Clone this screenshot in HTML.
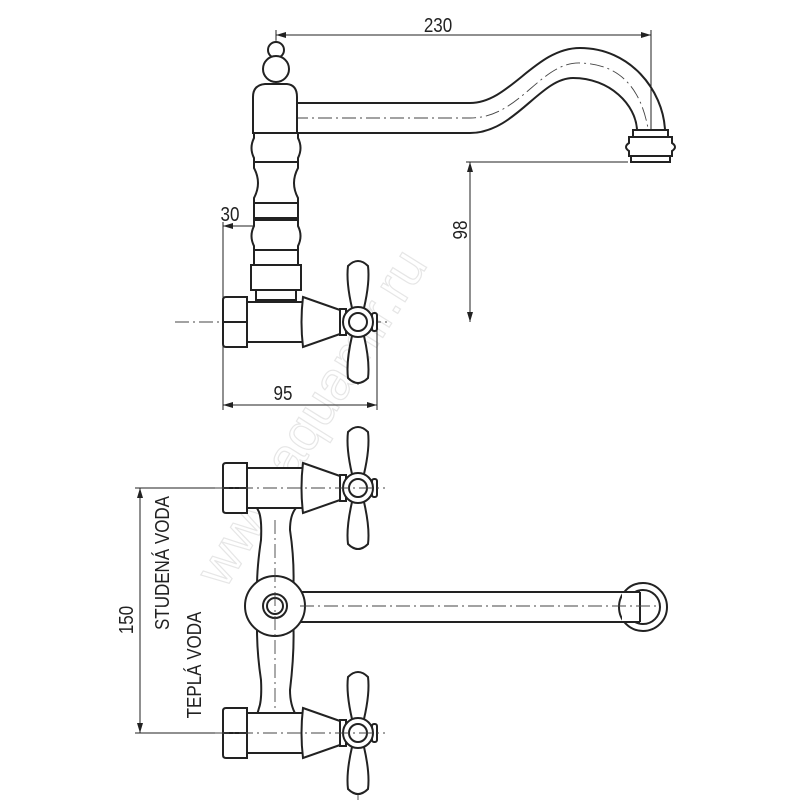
<!DOCTYPE html>
<html><head><meta charset="utf-8"><style>
html,body{margin:0;padding:0;background:#fff;}
svg{display:block;}
text{font-family:"Liberation Sans",sans-serif;fill:#222;}
</style></head><body>
<svg width="800" height="800" viewBox="0 0 800 800" xmlns="http://www.w3.org/2000/svg">
<defs>
<marker id="ar" markerWidth="10" markerHeight="6" refX="10" refY="3" orient="auto-start-reverse" markerUnits="userSpaceOnUse"><path d="M0,0 L10,3 L0,6 z" fill="#222"/></marker>
<g id="valve" fill="#fff" stroke="#222" stroke-width="2">
  <rect x="247" y="-20" width="56" height="40"/>
  <path d="M223,-22 Q223,-25 226,-25 L247,-25 L247,25 L226,25 Q223,25 223,22 Z"/>
  <line x1="223" y1="0" x2="247" y2="0"/>
  <path d="M303,-25 L340,-12 L340,12 L303,25 Q300,0 303,-25 Z"/>
  <rect x="340" y="-13" width="6" height="26"/>
  <path d="M352,-14 Q346,-40 348,-56 Q358,-66 368,-56 Q370,-40 364,-14 Z"/>
  <path d="M352,14 Q346,40 348,56 Q358,66 368,56 Q370,40 364,14 Z"/>
  <rect x="372" y="-9" width="5" height="18" rx="2"/>
  <circle cx="358" cy="0" r="15"/>
  <circle cx="358" cy="0" r="9"/>
</g>
</defs>

<text x="0" y="0" transform="translate(225,590) rotate(-58)" font-size="54" stroke="#e6e6e6" stroke-width="1.2" style="fill:none">www.aquamir.ru</text>

<g stroke="#222" stroke-width="1" fill="none">
<line x1="276" y1="35" x2="651" y2="35" marker-start="url(#ar)" marker-end="url(#ar)"/>
<line x1="276" y1="30" x2="276" y2="40"/>
<line x1="651" y1="30" x2="651" y2="162"/>
<line x1="470" y1="162" x2="470" y2="322" marker-start="url(#ar)" marker-end="url(#ar)"/>
<line x1="466" y1="162" x2="628" y2="162"/>
<line x1="223" y1="226" x2="276" y2="226" marker-start="url(#ar)" marker-end="url(#ar)"/>
<line x1="223" y1="222" x2="223" y2="410"/>
<line x1="223" y1="405" x2="377" y2="405" marker-start="url(#ar)" marker-end="url(#ar)"/>
<line x1="377" y1="330" x2="377" y2="410"/>
<line x1="140" y1="488" x2="140" y2="733" marker-start="url(#ar)" marker-end="url(#ar)"/>
<line x1="135" y1="488" x2="225" y2="488"/>
<line x1="135" y1="733" x2="225" y2="733"/>
</g>

<g stroke="#444" stroke-width="0.9" fill="none" stroke-dasharray="14,4,2,4">
<line x1="276" y1="40" x2="276" y2="300"/>
<line x1="175" y1="322" x2="390" y2="322"/>
<line x1="358" y1="262" x2="358" y2="385"/>
<path d="M270,118 L470,118 C520,118 540,62 580,63 C625,64 650,95 651,162"/>
<line x1="358" y1="430" x2="358" y2="548"/>
<line x1="358" y1="672" x2="358" y2="800"/>
</g>

<g stroke="#222" stroke-width="2" fill="none">
<path d="M297,103 L470,103 C510,103 535,48 580,48 C630,48 663,90 665,130"/>
<path d="M297,133 L470,133 C515,133 540,78 573,78 C610,78 636,105 637,130"/>
<path d="M633,130 L668,130 L668,137 L633,137 Z" fill="#fff"/>
<path d="M629,137 L672,137 L672,143 Q678,147 672,151 L672,156 L629,156 L629,151 Q623,147 629,143 Z" fill="#fff"/>
<path d="M631,156 L670,156 L670,162 L631,162 Z" fill="#fff"/>
<circle cx="276" cy="50" r="8" fill="#fff"/>
<circle cx="276" cy="69" r="13" fill="#fff"/>
<path d="M253,133 L253,97 Q253,85 265,84 L287,84 Q297,85 297,97 L297,133 Z" fill="#fff"/>
<path d="M254,133 L298,133 L298,138 Q303,148 298,158 L298,162 L254,162 L254,158 Q249,148 254,138 Z" fill="#fff"/>
<path d="M254,162 L298,162 L298,168 Q290,183 298,198 L298,203 L254,203 L254,198 Q262,183 254,168 Z" fill="#fff"/>
<path d="M254,203 L298,203 L298,218 L254,218 Z" fill="#fff"/>
<path d="M254,220 L298,220 L298,226 Q303,236 298,246 L298,250 L254,250 L254,246 Q249,236 254,226 Z" fill="#fff"/>
<path d="M254,250 L298,250 L298,265 L254,265 Z" fill="#fff"/>
<rect x="251" y="265" width="50" height="25" fill="#fff"/>
<rect x="256" y="290" width="40" height="10" fill="#fff"/>
</g>
<use href="#valve" transform="translate(0,322)"/>

<g stroke="#222" stroke-width="2" fill="#fff">
<path d="M300,592 L640,592 M300,622 L640,622" fill="none"/>
<circle cx="643" cy="607" r="24"/>
<circle cx="643" cy="607" r="17"/>
<rect x="622" y="592" width="20" height="30" stroke="none"/>
<path d="M622,592 L640,592 M622,622 L640,622" fill="none"/>
<line x1="640" y1="592" x2="640" y2="622"/>
<path d="M257,508 L259,512 Q262,520 261,540 Q255,580 258,606 Q255,640 261,680 Q262,700 259,708 L257,715 L296,715 Q290,705 290,690 Q296,640 292,606 Q296,570 290,530 Q290,515 296,508 Z"/>
<circle cx="275" cy="606" r="30"/>
<circle cx="275" cy="606" r="12"/>
<circle cx="275" cy="606" r="8"/>
</g>
<g stroke="#444" stroke-width="0.9" fill="none" stroke-dasharray="14,4,2,4">
<line x1="275" y1="520" x2="275" y2="725"/>
<line x1="300" y1="606" x2="660" y2="606"/>
</g>
<use href="#valve" transform="translate(0,488)"/>
<use href="#valve" transform="translate(0,733)"/>
<g stroke="#444" stroke-width="0.9" fill="none" stroke-dasharray="14,4,2,4">
<line x1="215" y1="488" x2="385" y2="488"/>
<line x1="215" y1="733" x2="385" y2="733"/>
</g>

<text transform="translate(438,32) scale(0.85,1)" font-size="20" text-anchor="middle">230</text>
<text transform="translate(230,221) scale(0.85,1)" font-size="20" text-anchor="middle">30</text>
<text transform="translate(283,400) scale(0.85,1)" font-size="20" text-anchor="middle">95</text>
<text transform="translate(467,230) rotate(-90) scale(0.85,1)" font-size="20" text-anchor="middle">98</text>
<text transform="translate(133,620) rotate(-90) scale(0.85,1)" font-size="20" text-anchor="middle">150</text>
<text transform="translate(169,563) rotate(-90) scale(0.85,1)" font-size="20" text-anchor="middle">STUDENÁ VODA</text>
<text transform="translate(201,665) rotate(-90) scale(0.85,1)" font-size="20" text-anchor="middle">TEPLÁ VODA</text>
</svg>
</body></html>
